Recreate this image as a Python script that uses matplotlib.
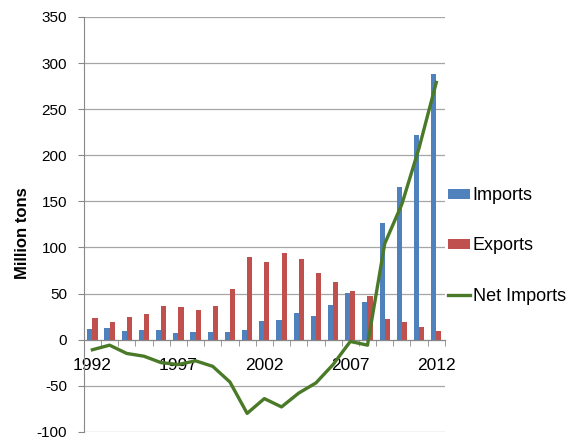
import matplotlib
matplotlib.use("Agg")
import matplotlib.pyplot as plt
import numpy as np

plt.rcParams['font.family'] = ['Liberation Sans', 'DejaVu Sans']
plt.rcParams['axes.unicode_minus'] = False

years = list(range(1992, 2013))
imports = [11, 13, 9, 10, 10, 7, 8, 8, 8, 10, 20, 21, 29, 26, 38, 51, 41, 127, 166, 222, 288]
exports = [23, 19, 24, 28, 36, 35, 32, 37, 55, 90, 84, 94, 87, 72, 63, 53, 47, 22, 19, 14, 9]
net_imports = [-11, -6, -15, -18, -25, -27, -23, -29, -46, -80, -64, -73, -58, -47, -27, -2, -6, 104, 147, 208, 279]
tick_labels = ['1992', '1997', '2002', '2007', '2012']

fig = plt.figure(figsize=(5.66, 4.47), dpi=100)
ax = fig.add_axes([0.148, 0.034, 0.638, 0.928])

x = np.arange(len(years))
w = 0.3
b1 = ax.bar(x - w/2, imports, width=w, color='#4F81BD', label='Imports', zorder=2)
b2 = ax.bar(x + w/2, exports, width=w, color='#C0504D', label='Exports', zorder=2)
l1, = ax.plot(x, net_imports, color='#4A7A28', lw=2.4, label='Net Imports', zorder=3)

ax.set_xlim(-0.5, len(years) - 0.5)
ax.set_ylim(-100, 350)
ax.set_yticks(np.arange(-100, 351, 50))
ax.yaxis.grid(True, color='#A6A6A6', lw=0.9, zorder=0)
ax.set_axisbelow(True)

for s in ['top', 'right']:
    ax.spines[s].set_visible(False)
ax.spines['bottom'].set_position(('data', 0))
ax.spines['bottom'].set_color('#888888')
ax.spines['left'].set_color('#888888')

label_pos = [years.index(int(t)) for t in tick_labels]
ax.set_xticks(label_pos)
ax.set_xticklabels(tick_labels)
ax.set_xticks(np.arange(-0.5, len(years), 1), minor=True)
ax.tick_params(axis='x', which='major', length=0, labelsize=12.5, pad=13)
ax.tick_params(axis='x', which='minor', length=4, color='#888888', direction='out')
ax.tick_params(axis='y', length=4, color='#888888', labelsize=11, pad=8)

ax.set_ylabel('Million tons', fontsize=12, fontweight='bold')
ax.yaxis.set_label_coords(-0.15, 0.48)

ax.legend(handles=[b1, b2, l1], loc='center left', bbox_to_anchor=(0.965, 0.448), frameon=False,
          fontsize=13, labelspacing=1.85, handlelength=1.2, handletextpad=0.15,
          handleheight=0.5)

fig.savefig('out.png', dpi=100)
